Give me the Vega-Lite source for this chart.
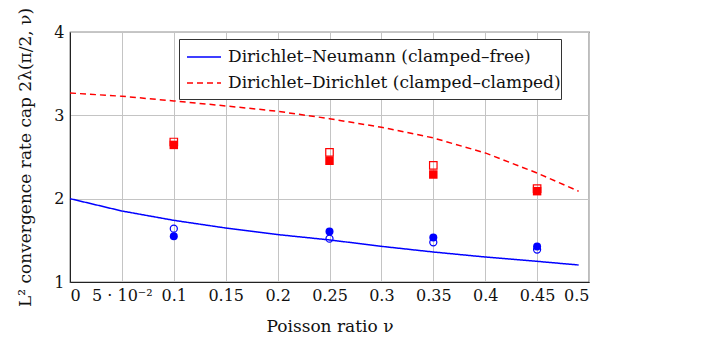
{
  "$schema": "https://vega.github.io/schema/vega-lite/v6.json",
  "width": 519,
  "height": 250,
  "autosize": "none",
  "padding": {"left": 70, "top": 32, "right": 122, "bottom": 79},
  "background": "white",
  "config": {
    "font": "DejaVu Serif",
    "view": {"stroke": "#222222", "strokeWidth": 1.2},
    "axis": {
      "labelFont": "DejaVu Serif",
      "titleFont": "DejaVu Serif",
      "labelFontSize": 16,
      "titleFontSize": 17,
      "labelColor": "#111111",
      "titleColor": "#111111",
      "titleFontWeight": "normal",
      "gridColor": "#c4c4c4",
      "gridWidth": 1,
      "domainColor": "#222222",
      "tickColor": "#9a9a9a",
      "ticks": false
    },
    "legend": {
      "labelFont": "DejaVu Serif",
      "labelFontSize": 17
    }
  },
  "data": {
    "values": [
      {"series": "Dirichlet–Neumann (clamped–free)", "kind": "curve", "nu": 0.0, "value": 2.0},
      {"series": "Dirichlet–Neumann (clamped–free)", "kind": "curve", "nu": 0.05, "value": 1.852},
      {"series": "Dirichlet–Neumann (clamped–free)", "kind": "curve", "nu": 0.1, "value": 1.74},
      {"series": "Dirichlet–Neumann (clamped–free)", "kind": "curve", "nu": 0.15, "value": 1.648},
      {"series": "Dirichlet–Neumann (clamped–free)", "kind": "curve", "nu": 0.2, "value": 1.569},
      {"series": "Dirichlet–Neumann (clamped–free)", "kind": "curve", "nu": 0.25, "value": 1.505},
      {"series": "Dirichlet–Neumann (clamped–free)", "kind": "curve", "nu": 0.3, "value": 1.428},
      {"series": "Dirichlet–Neumann (clamped–free)", "kind": "curve", "nu": 0.35, "value": 1.36},
      {"series": "Dirichlet–Neumann (clamped–free)", "kind": "curve", "nu": 0.4, "value": 1.3},
      {"series": "Dirichlet–Neumann (clamped–free)", "kind": "curve", "nu": 0.45, "value": 1.248},
      {"series": "Dirichlet–Neumann (clamped–free)", "kind": "curve", "nu": 0.49, "value": 1.204},
      {"series": "Dirichlet–Dirichlet (clamped–clamped)", "kind": "curve", "nu": 0.0, "value": 3.268},
      {"series": "Dirichlet–Dirichlet (clamped–clamped)", "kind": "curve", "nu": 0.05, "value": 3.229},
      {"series": "Dirichlet–Dirichlet (clamped–clamped)", "kind": "curve", "nu": 0.1, "value": 3.173},
      {"series": "Dirichlet–Dirichlet (clamped–clamped)", "kind": "curve", "nu": 0.15, "value": 3.113},
      {"series": "Dirichlet–Dirichlet (clamped–clamped)", "kind": "curve", "nu": 0.2, "value": 3.049},
      {"series": "Dirichlet–Dirichlet (clamped–clamped)", "kind": "curve", "nu": 0.25, "value": 2.96},
      {"series": "Dirichlet–Dirichlet (clamped–clamped)", "kind": "curve", "nu": 0.3, "value": 2.857},
      {"series": "Dirichlet–Dirichlet (clamped–clamped)", "kind": "curve", "nu": 0.35, "value": 2.729},
      {"series": "Dirichlet–Dirichlet (clamped–clamped)", "kind": "curve", "nu": 0.4, "value": 2.549},
      {"series": "Dirichlet–Dirichlet (clamped–clamped)", "kind": "curve", "nu": 0.45, "value": 2.308},
      {"series": "Dirichlet–Dirichlet (clamped–clamped)", "kind": "curve", "nu": 0.49, "value": 2.089},
      {"series": "DD", "kind": "open", "nu": 0.1, "value": 2.68},
      {"series": "DD", "kind": "filled", "nu": 0.1, "value": 2.645},
      {"series": "DD", "kind": "open", "nu": 0.25, "value": 2.555},
      {"series": "DD", "kind": "filled", "nu": 0.25, "value": 2.455},
      {"series": "DD", "kind": "open", "nu": 0.35, "value": 2.4},
      {"series": "DD", "kind": "filled", "nu": 0.35, "value": 2.29},
      {"series": "DD", "kind": "open", "nu": 0.45, "value": 2.12},
      {"series": "DD", "kind": "filled", "nu": 0.45, "value": 2.09},
      {"series": "DN", "kind": "open", "nu": 0.1, "value": 1.64},
      {"series": "DN", "kind": "filled", "nu": 0.1, "value": 1.548},
      {"series": "DN", "kind": "open", "nu": 0.25, "value": 1.52},
      {"series": "DN", "kind": "filled", "nu": 0.25, "value": 1.605},
      {"series": "DN", "kind": "open", "nu": 0.35, "value": 1.476},
      {"series": "DN", "kind": "filled", "nu": 0.35, "value": 1.533},
      {"series": "DN", "kind": "open", "nu": 0.45, "value": 1.389},
      {"series": "DN", "kind": "filled", "nu": 0.45, "value": 1.425}
    ]
  },
  "encoding": {
    "x": {
      "field": "nu",
      "type": "quantitative",
      "scale": {"domain": [0, 0.5], "nice": false, "zero": false},
      "axis": {
        "title": "Poisson ratio ν",
        "values": [0, 0.05, 0.1, 0.15, 0.2, 0.25, 0.3, 0.35, 0.4, 0.45, 0.5],
        "labelExpr": "datum.value == 0.05 ? '5 · 10⁻²' : format(datum.value, '.2~f')",
        "labelPadding": 5,
        "titlePadding": 15
      }
    },
    "y": {
      "field": "value",
      "type": "quantitative",
      "scale": {"domain": [1, 4], "nice": false, "zero": false},
      "axis": {
        "title": "L² convergence rate cap 2λ(π/2, ν)",
        "values": [1, 2, 3, 4],
        "labelPadding": 6,
        "titlePadding": 19
      }
    }
  },
  "layer": [
    {
      "transform": [{"filter": "datum.kind == 'curve'"}],
      "mark": {"type": "line", "strokeWidth": 1.5},
      "encoding": {
        "color": {
          "field": "series",
          "type": "nominal",
          "scale": {
            "domain": ["Dirichlet–Neumann (clamped–free)", "Dirichlet–Dirichlet (clamped–clamped)"],
            "range": ["#0000ff", "#ff0000"]
          },
          "legend": {
            "title": " ",
            "titleOrient": "bottom",
            "titleFontSize": 6,
            "titlePadding": 2,
            "orient": "none",
            "legendX": 109,
            "legendY": 7,
            "symbolType": "stroke",
            "symbolSize": 1156,
            "symbolStrokeWidth": 1.5,
            "symbolOffset": 7,
            "labelOffset": 6,
            "labelExpr": "datum.label + '\u00a0\u00a0\u00a0\u00a0'",
            "labelLimit": 450,
            "padding": 0,
            "rowPadding": -8,
            "fillColor": "white",
            "strokeColor": "#333333",
            "labelColor": "#111111"
          }
        },
        "strokeDash": {
          "field": "series",
          "type": "nominal",
          "scale": {
            "domain": ["Dirichlet–Neumann (clamped–free)", "Dirichlet–Dirichlet (clamped–clamped)"],
            "range": [[1, 0], [6, 4]]
          },
          "legend": null
        }
      }
    },
    {
      "transform": [{"filter": "datum.kind == 'open'"}],
      "mark": {"type": "point", "filled": false, "strokeWidth": 1.2, "opacity": 1},
      "encoding": {
        "shape": {"condition": {"test": "datum.series == 'DD'", "value": "square"}, "value": "circle"},
        "color": {"condition": {"test": "datum.series == 'DD'", "value": "#ff0000"}, "value": "#0000ff"},
        "size": {"condition": {"test": "datum.series == 'DD'", "value": 56}, "value": 50}
      }
    },
    {
      "transform": [{"filter": "datum.kind == 'filled'"}],
      "mark": {"type": "point", "filled": true, "opacity": 1},
      "encoding": {
        "shape": {"condition": {"test": "datum.series == 'DD'", "value": "square"}, "value": "circle"},
        "color": {"condition": {"test": "datum.series == 'DD'", "value": "#ff0000"}, "value": "#0000ff"},
        "size": {"condition": {"test": "datum.series == 'DD'", "value": 72}, "value": 64}
      }
    }
  ]
}
